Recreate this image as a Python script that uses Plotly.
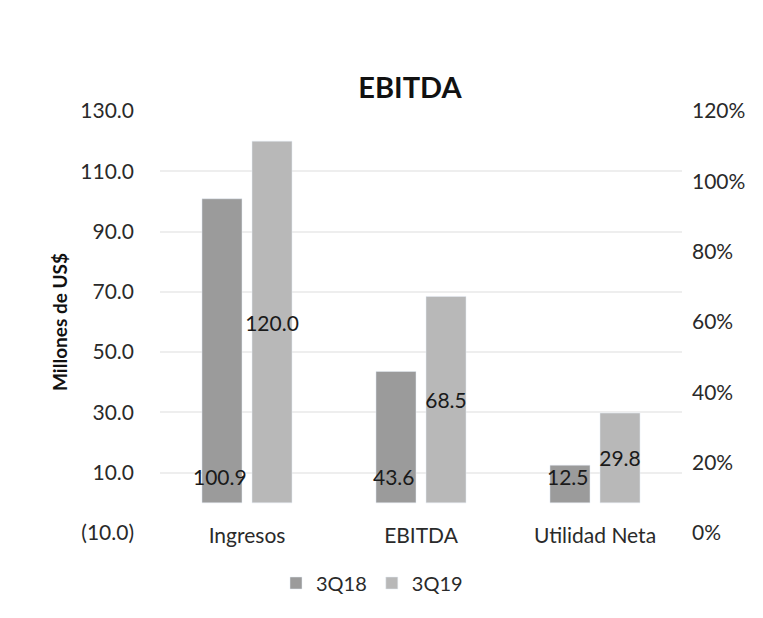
import plotly.graph_objects as go

categories = ["Ingresos", "EBITDA", "Utilidad Neta"]
series_names = ["3Q18", "3Q19"]
values_3q18 = [100.9, 43.6, 12.5]
values_3q19 = [120.0, 68.5, 29.8]
left_tickvals = [-10, 10, 30, 50, 70, 90, 110, 130]
left_ticktext = ["(10.0)", "10.0", "30.0", "50.0", "70.0", "90.0", "110.0", "130.0"]
right_tickvals = [0, 0.2, 0.4, 0.6, 0.8, 1.0, 1.2]
right_ticktext = ["0%", "20%", "40%", "60%", "80%", "100%", "120%"]

FONT = "Lato"
LABEL_COLOR = "#1a1a1a"
fig = go.Figure()
fig.add_trace(go.Bar(
    x=categories, y=values_3q18, name=series_names[0],
    marker=dict(color="#9b9b9b"),
))
fig.add_trace(go.Bar(
    x=categories, y=values_3q19, name=series_names[1],
    marker=dict(color="#b8b8b8"),
    text=[f"{v:.1f}" for v in values_3q19], textposition="inside",
    insidetextanchor="middle", constraintext="none", textangle=0,
    textfont=dict(family=FONT, size=21, color=LABEL_COLOR),
))
# invisible trace to show the secondary axis
fig.add_trace(go.Scatter(x=categories, y=[None, None, None], yaxis="y2",
                         showlegend=False, hoverinfo="skip", mode="lines"))

# 3Q18 labels near the bar base
for cat, v in zip(categories, values_3q18):
    fig.add_annotation(x=cat, y=0, xref="x", yref="y", text=f"{v:.1f}",
                       showarrow=False, xshift=-27, yshift=12, yanchor="bottom",
                       font=dict(family=FONT, size=21, color=LABEL_COLOR))

fig.update_layout(
    width=763, height=618,
    paper_bgcolor="white", plot_bgcolor="white",
    margin=dict(l=152, r=89, t=103, b=93),
    barmode="group", bargap=0.425, bargroupgap=0.2,
    font=dict(family=FONT, size=21, color="#2a2a2a"),
    title=dict(text="<b>EBITDA</b>", x=402 / 763, xref="container", xanchor="center",
               y=1 - 80 / 618, yref="container", yanchor="middle",
               font=dict(family=FONT, size=29, color="#111111")),
    xaxis=dict(showgrid=False, showline=False, zeroline=False, automargin=False,
               tickfont=dict(family=FONT, size=21, color="#2a2a2a"),
               ticklabelstandoff=-12),
    yaxis=dict(range=[-10, 130], tickvals=left_tickvals, ticktext=left_ticktext,
               showgrid=True, gridcolor="#eeeeee", gridwidth=1.5, zeroline=False,
               showline=False, ticklabelstandoff=25, automargin=False,
               title=dict(text="<b>Millones de US$</b>", standoff=7,
                          font=dict(family=FONT, size=19, color="#111111")),
               tickfont=dict(family=FONT, size=21, color="#2a2a2a")),
    yaxis2=dict(range=[0, 1.2], tickvals=right_tickvals, ticktext=right_ticktext,
                overlaying="y", side="right", showgrid=False, zeroline=False,
                showline=False, ticklabelstandoff=9, automargin=False,
                tickfont=dict(family=FONT, size=21, color="#2a2a2a")),
    legend=dict(orientation="h", x=364 / 763, xref="container", xanchor="center",
                y=1 - 575 / 618, yref="container", yanchor="middle",
                font=dict(family=FONT, size=20, color="#2a2a2a"),
                itemwidth=30),
)
fig.write_html("out.html")
